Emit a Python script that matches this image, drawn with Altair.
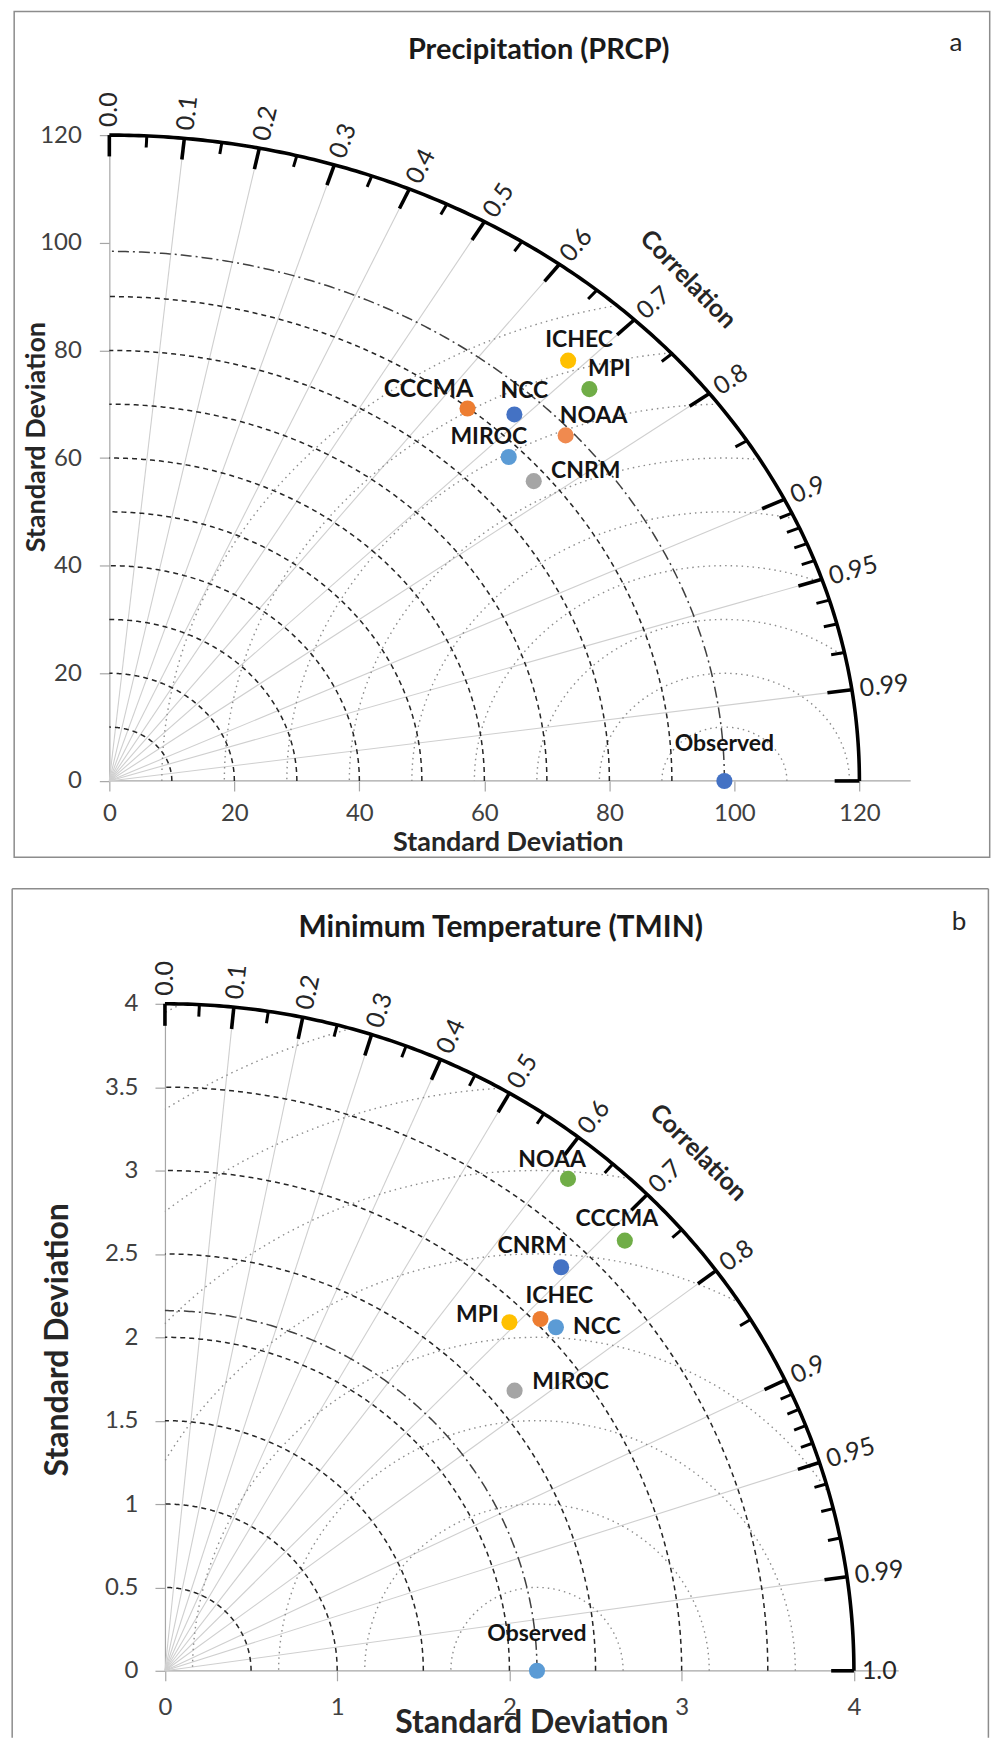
import math
import numpy as np
import pandas as pd
import altair as alt

FONT = "Lato"

# ---------------- data: panel a (Precipitation) ----------------
a_models = ["ICHEC", "MPI", "CCCMA", "NCC", "NOAA", "MIROC", "CNRM", "Observed"]
a_x = [73.4, 76.8, 57.3, 64.8, 73.0, 63.9, 67.9, 98.4]
a_y = [78.1, 72.8, 69.2, 68.1, 64.2, 60.2, 55.7, 0.0]
a_colors = ["#FFC000", "#70AD47", "#ED7D31", "#4472C4", "#F08A4F", "#5B9BD5", "#A5A5A5", "#4472C4"]

# ---------------- data: panel b (Minimum temperature) ----------------
b_models = ["NOAA", "CCCMA", "CNRM", "MPI", "ICHEC", "NCC", "MIROC", "Observed"]
b_x = [2.34, 2.67, 2.30, 2.00, 2.18, 2.27, 2.03, 2.16]
b_y = [2.95, 2.58, 2.42, 2.09, 2.11, 2.06, 1.68, 0.0]
b_colors = ["#70AD47", "#70AD47", "#4472C4", "#FFC000", "#ED7D31", "#5B9BD5", "#A5A5A5", "#5B9BD5"]

# correlation ticks / labels
corr_major = [0.0, 0.1, 0.2, 0.3, 0.4, 0.5, 0.6, 0.7, 0.8, 0.9, 0.95, 0.99, 1.0]
corr_minor = [0.05, 0.15, 0.25, 0.35, 0.45, 0.55, 0.65, 0.75, 0.85,
              0.91, 0.92, 0.93, 0.94, 0.96, 0.97, 0.98]
corr_lines = [0.1, 0.2, 0.3, 0.4, 0.5, 0.6, 0.7, 0.8, 0.9, 0.95, 0.99]

a_corr_labels = ["0.0", "0.1", "0.2", "0.3", "0.4", "0.5", "0.6", "0.7", "0.8", "0.9", "0.95", "0.99"]
b_corr_labels = ["0.0", "0.1", "0.2", "0.3", "0.4", "0.5", "0.6", "0.7", "0.8", "0.9", "0.95", "0.99", "1.0"]

a_xticks = [0, 20, 40, 60, 80, 100, 120]
a_yticks = [0, 20, 40, 60, 80, 100, 120]
b_xticks = [0, 1, 2, 3, 4]
b_yticks = [0, 0.5, 1, 1.5, 2, 2.5, 3, 3.5, 4]

# ---------------- styles / layout ----------------
# title/letter/box positions: pixels relative to the plot's top-left corner
# axis-title positions: pixels relative to the axes origin
CFG_A = dict(
    names=a_models, xs=a_x, ys=a_y, colors=a_colors, corr_labels=a_corr_labels,
    R=120.0, std_step=10.0, n_std=9, rms_step=10.0, n_rms=9,
    xmin=0.0, xmax=128.2, sx=6.26, sy=5.39, xticks=a_xticks, yticks=a_yticks, fmt="d",
    xlabpad=11, ylabpad=18,
    title="Precipitation (PRCP)", letter="a", title_size=29,
    title_xy=(430, -85), letter_xy=(848, -92),
    corr_word_xy=(92.6, 93.2), corr_word_angle=46,
    ytitle_xy=(-73, 302), xtitle_xy=(399, 62), axis_title_size=27,
    box=(-95.3, 881.7, -123.7, 723.3), box_bottom=True,
    offsets={"ICHEC": (11, -21), "MPI": (20, -20), "CCCMA": (-39, -20), "NCC": (10, -23),
             "NOAA": (28, -19), "MIROC": (-20, -20), "CNRM": (52, -10), "Observed": (0, -37)},
    label_sizes={"CCCMA": 25},
)
CFG_B = dict(
    names=b_models, xs=b_x, ys=b_y, colors=b_colors, corr_labels=b_corr_labels,
    R=4.0, std_step=0.5, n_std=7, rms_step=0.5, n_rms=9,
    xmin=-0.3229, xmax=4.26, sx=172.5, sy=167.0, xticks=b_xticks, yticks=b_yticks, fmt="~g",
    xlabpad=15, ylabpad=17,
    title="Minimum Temperature (TMIN)", letter="b", title_size=30,
    title_xy=(392, -75.5), letter_xy=(851, -82),
    corr_word_xy=(3.097, 3.108), corr_word_angle=45,
    ytitle_xy=(-108, 336), xtitle_xy=(367, 52), axis_title_size=32,
    box=(-97.3, 880.4, -115.3, 735), box_bottom=False,
    offsets={"NOAA": (-16, -19), "CCCMA": (-8, -22), "CNRM": (-29, -21), "MPI": (-32, -7),
             "ICHEC": (19, -23), "NCC": (41, 0), "MIROC": (56, -9), "Observed": (0, -37)},
    label_sizes={},
)


def polyline(xs, ys, key):
    return pd.DataFrame({"x": xs, "y": ys, "k": key, "o": np.arange(len(xs))})


def build_panel(c):
    R = c["R"]
    obs = c["xs"][-1]
    sx, sy = c["sx"], c["sy"]
    shift = -c["xmin"] * sx          # pixel distance from plot left edge to x = 0
    W = (c["xmax"] - c["xmin"]) * sx
    H = R * sy

    xscale = alt.Scale(domain=[c["xmin"], c["xmax"]], nice=False, zero=False)
    yscale = alt.Scale(domain=[0, R], nice=False, zero=False)
    common_axis = dict(grid=False, domainColor="#A6A6A6", domainWidth=1.2, tickColor="#A6A6A6",
                       tickSize=10, tickWidth=1.2, labelFont=FONT, labelFontSize=24,
                       labelColor="#404040", format=c["fmt"], labelOverlap=False, labelFlush=False,
                       titleFont=FONT, titleFontWeight="bold", titleColor="#262626",
                       titleFontSize=c["axis_title_size"], titleAlign="center", titleBaseline="middle")
    xaxis = alt.Axis(values=c["xticks"], labelPadding=c["xlabpad"], title="Standard Deviation", domain=False,
                     titleX=c["xtitle_xy"][0] + shift, titleY=c["xtitle_xy"][1], **common_axis)
    yaxis = alt.Axis(values=c["yticks"], labelPadding=c["ylabpad"], title="Standard Deviation", offset=-shift,
                     titleX=c["ytitle_xy"][0], titleY=c["ytitle_xy"][1], titleAngle=270, **common_axis)

    X = alt.X("x:Q", scale=xscale, axis=xaxis)
    Y = alt.Y("y:Q", scale=yscale, axis=yaxis)
    X2 = alt.X2("x2:Q")
    Y2 = alt.Y2("y2:Q")

    layers = []

    # x axis line (from 0 to the end of the axis)
    xl = pd.DataFrame({"x": [0.0], "y": [0.0], "x2": [c["xmax"]], "y2": [0.0]})
    layers.append(alt.Chart(xl).mark_rule(color="#A6A6A6", strokeWidth=1.2).encode(x=X, y=Y, x2=X2, y2=Y2))

    # radial correlation lines
    th = np.arccos(np.array(corr_lines))
    rad = pd.DataFrame({"x": 0.0, "y": 0.0, "x2": R * np.cos(th), "y2": R * np.sin(th)})
    layers.append(alt.Chart(rad).mark_rule(color="#CFCFCF", strokeWidth=1.1).encode(x=X, y=Y, x2=X2, y2=Y2))

    # RMS-difference arcs (dotted, centred on the observed point)
    rms_frames = []
    for i in range(1, c["n_rms"] + 1):
        rr = i * c["rms_step"]
        cmax = (R * R - obs * obs - rr * rr) / (2 * obs * rr)
        phi0 = math.acos(max(-1.0, min(1.0, cmax)))
        cmin = -obs / rr
        phi1 = math.acos(max(-1.0, min(1.0, cmin)))
        if phi1 <= phi0:
            continue
        p = np.linspace(phi0, phi1, 240)
        rms_frames.append(polyline(obs + rr * np.cos(p), rr * np.sin(p), f"r{i}"))
    rms = pd.concat(rms_frames)
    layers.append(alt.Chart(rms).mark_line(color="#8C8C8C", strokeWidth=1.4, strokeDash=[1.5, 4])
                  .encode(x=X, y=Y, detail="k:N", order="o:Q"))

    # standard deviation arcs (dashed)
    t = np.linspace(0, math.pi / 2, 240)
    sd_frames = [polyline(i * c["std_step"] * np.cos(t), i * c["std_step"] * np.sin(t), f"s{i}")
                 for i in range(1, c["n_std"] + 1)]
    sd = pd.concat(sd_frames)
    layers.append(alt.Chart(sd).mark_line(color="#262626", strokeWidth=1.5, strokeDash=[5, 4])
                  .encode(x=X, y=Y, detail="k:N", order="o:Q"))

    # observed std arc (dash-dot)
    od = polyline(obs * np.cos(t), obs * np.sin(t), "obs")
    layers.append(alt.Chart(od).mark_line(color="#404040", strokeWidth=1.5, strokeDash=[11, 4, 2, 4])
                  .encode(x=X, y=Y, detail="k:N", order="o:Q"))

    # outer arc
    oa = polyline(R * np.cos(t), R * np.sin(t), "outer")
    layers.append(alt.Chart(oa).mark_line(color="#000000", strokeWidth=3.6)
                  .encode(x=X, y=Y, detail="k:N", order="o:Q"))

    # tick marks on the correlation arc
    thM = np.arccos(np.array(corr_major))
    tM = pd.DataFrame({"x": R * np.cos(thM), "y": R * np.sin(thM),
                       "x2": R * 0.967 * np.cos(thM), "y2": R * 0.967 * np.sin(thM)})
    layers.append(alt.Chart(tM).mark_rule(color="#000000", strokeWidth=3.6).encode(x=X, y=Y, x2=X2, y2=Y2))
    thm = np.arccos(np.array(corr_minor))
    tm = pd.DataFrame({"x": R * np.cos(thm), "y": R * np.sin(thm),
                       "x2": R * 0.982 * np.cos(thm), "y2": R * 0.982 * np.sin(thm)})
    layers.append(alt.Chart(tm).mark_rule(color="#000000", strokeWidth=3).encode(x=X, y=Y, x2=X2, y2=Y2))

    # correlation labels (placed a fixed pixel gap outside the arc)
    labs = c["corr_labels"]
    cv = np.array([float(s) for s in labs])
    thl = np.arccos(cv)
    pr = np.sqrt((sx * R * np.cos(thl)) ** 2 + (sy * R * np.sin(thl)) ** 2)
    fac = 1 + 8.0 / pr
    pix = np.degrees(np.arctan2(sy * np.sin(thl), sx * np.cos(thl)))
    cl = pd.DataFrame({"x": R * fac * np.cos(thl), "y": R * fac * np.sin(thl),
                       "lab": labs, "ang": (360 - pix) % 360})
    layers.append(alt.Chart(cl).mark_text(font=FONT, fontSize=25, color="#262626", align="left",
                                          baseline="middle")
                  .encode(x=X, y=Y, text="lab:N", angle=alt.Angle("ang:Q", scale=None)))

    cw = pd.DataFrame({"x": [c["corr_word_xy"][0]], "y": [c["corr_word_xy"][1]], "lab": ["Correlation"]})
    layers.append(alt.Chart(cw).mark_text(font=FONT, fontSize=25, fontWeight="bold", color="#262626",
                                          align="center", baseline="middle", angle=c["corr_word_angle"])
                  .encode(x=X, y=Y, text="lab:N"))

    # model points
    pts = pd.DataFrame({"x": c["xs"], "y": c["ys"], "model": c["names"], "col": c["colors"]})
    layers.append(alt.Chart(pts).mark_circle(size=260, opacity=1)
                  .encode(x=X, y=Y, color=alt.Color("col:N", scale=None)))
    for i, name in enumerate(c["names"]):
        dx, dy = c["offsets"][name]
        layers.append(alt.Chart(pts.iloc[[i]]).mark_text(
            font=FONT, fontWeight="bold", fontSize=c["label_sizes"].get(name, 23), color="#141414",
            align="center", baseline="middle", dx=dx, dy=dy).encode(x=X, y=Y, text="model:N"))

    # chart title and panel letter
    one = pd.DataFrame({"t": [c["title"]], "l": [c["letter"]]})
    layers.append(alt.Chart(one).mark_text(font=FONT, fontWeight="bold", fontSize=c["title_size"],
                                           color="#1a1a1a", align="center", baseline="middle")
                  .encode(text="t:N", x=alt.value(c["title_xy"][0]), y=alt.value(c["title_xy"][1])))
    layers.append(alt.Chart(one).mark_text(font=FONT, fontSize=26, color="#262626",
                                           align="center", baseline="middle")
                  .encode(text="l:N", x=alt.value(c["letter_xy"][0]), y=alt.value(c["letter_xy"][1])))

    # panel frame
    bx0, bx1, by0, by1 = c["box"]
    if c["box_bottom"]:
        layers.append(alt.Chart(one).mark_rect(fillOpacity=0, stroke="#8C8C8C", strokeWidth=1.5)
                      .encode(x=alt.value(bx0), x2=alt.value(bx1), y=alt.value(by0), y2=alt.value(by1)))
    else:
        for (xa, xb, ya, yb) in [(bx0, bx0, by0, by1), (bx1, bx1, by0, by1), (bx0, bx1, by0, by0)]:
            layers.append(alt.Chart(one).mark_rule(stroke="#8C8C8C", strokeWidth=1.5)
                          .encode(x=alt.value(xa), x2=alt.value(xb), y=alt.value(ya), y2=alt.value(yb)))

    return alt.layer(*layers).properties(width=W, height=H)


top = build_panel(CFG_A)
bottom = build_panel(CFG_B)

chart = alt.vconcat(top, bottom, spacing=28).properties(
    padding={"left": 10.5, "top": 9, "right": 0, "bottom": 0},
    background="white",
).configure_view(stroke=None)

chart.save("out.html", embed_options={"renderer": "svg", "actions": False})
